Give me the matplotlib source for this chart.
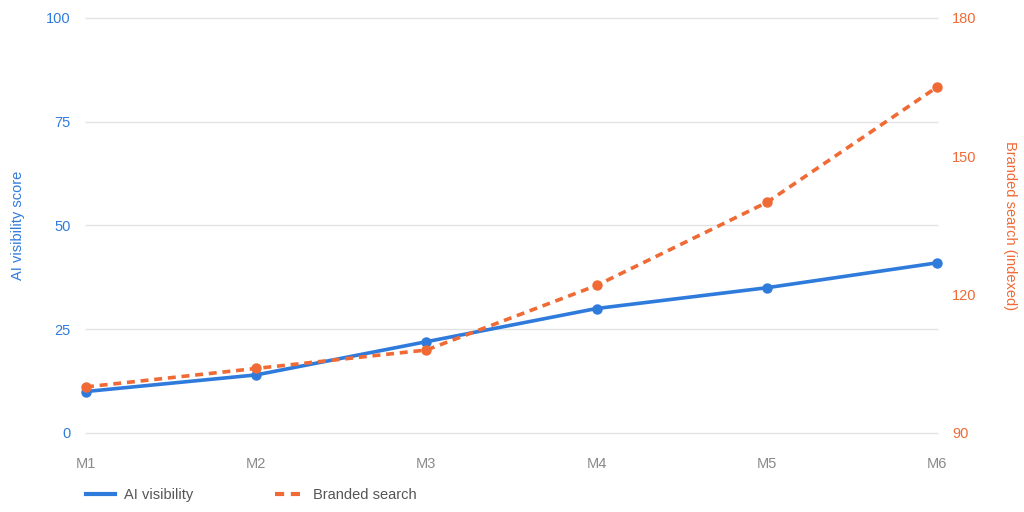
import matplotlib.pyplot as plt
from matplotlib.lines import Line2D

plt.rcParams['font.family'] = ['Liberation Sans', 'DejaVu Sans']

# data
months = ["M1", "M2", "M3", "M4", "M5", "M6"]
ai_visibility = [10, 14, 22, 30, 35, 41]
branded_search = [100, 104, 108, 122, 140, 165]

BLUE = "#2f7bdc"
ORANGE = "#f06a35"
GRAY = "#8a8a8a"
GRID = "#e2e2e2"

fig = plt.figure(figsize=(10.24, 5.12), dpi=100)
ax = fig.add_axes([86 / 1024, 1 - 433 / 512, (937 - 86) / 1024, (433 - 18) / 512])
ax2 = ax.twinx()

x = list(range(len(months)))

ax.plot(x, ai_visibility, color=BLUE, lw=2.6, marker="o", ms=6.5, clip_on=False, zorder=3)
ax2.plot(x, branded_search, color=ORANGE, lw=2.6, ls=(0, (2.2, 1.6)), marker="o", ms=6.5,
         clip_on=False, zorder=3)

ax.set_xlim(0, len(months) - 1)
ax.set_ylim(0, 100)
ax.set_yticks([0, 25, 50, 75, 100])
ax2.set_ylim(90, 180)
ax2.set_yticks([90, 120, 150, 180])

ax.set_xticks(x)
ax.set_xticklabels(months)
ax.grid(axis="y", color=GRID, lw=1)
for gl in ax.get_ygridlines():
    gl.set_clip_on(False)
ax.set_axisbelow(True)

for a in (ax, ax2):
    for s in a.spines.values():
        s.set_visible(False)
    a.tick_params(length=0)

ax.tick_params(axis="x", colors=GRAY, labelsize=10.5, pad=17)
ax.tick_params(axis="y", colors=BLUE, labelsize=10.5, pad=11)
ax2.tick_params(axis="y", colors=ORANGE, labelsize=10.5, pad=11)

ax.set_ylabel("AI visibility score", color=BLUE, fontsize=10.5, va="center")
ax.yaxis.set_label_coords(-0.080, 0.5)
ax2.set_ylabel("Branded search (indexed)", color=ORANGE, fontsize=10.5, rotation=270,
               va="center")
ax2.yaxis.set_label_coords(1.086, 0.5)

handles = [
    Line2D([], [], color=BLUE, lw=3),
    Line2D([], [], color=ORANGE, lw=3, ls=(0, (2.2, 1.6))),
]
fig.legend(handles, ["AI visibility", "Branded search"], loc="lower left",
           bbox_to_anchor=(0.071, -0.006), ncol=2, frameon=False, fontsize=10.5,
           handlelength=2.0, handletextpad=0.6, columnspacing=5.6, labelcolor="#555555")

fig.savefig("out.png", dpi=100)
